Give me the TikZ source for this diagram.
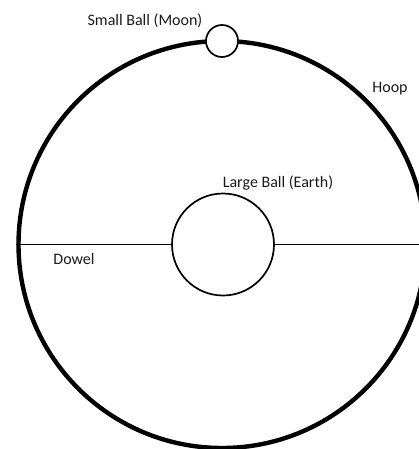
\documentclass[tikz,border=0pt]{standalone}
\usepackage{fontspec}
\setmainfont{Carlito}
\usetikzlibrary{positioning}
\definecolor{LabelGray}{HTML}{1A1A1A}
\tikzset{
  ball/.style={circle,draw=black,fill=white,inner sep=0pt},
  lbl/.style={font=\fontsize{16}{18}\selectfont,text=LabelGray}
}

\begin{document}
\begin{tikzpicture}[x=1pt,y=-1pt]
  \useasboundingbox (0,0) rectangle (419,449);
  \clip (0,0) rectangle (419,449);
  \node[circle,draw=black,line width=4.4pt,minimum size=407pt,inner sep=0pt] (hoop) at (222,244.5) {};
  \node[ball,line width=1.7pt,minimum size=102pt] (earth) at (223,244.5) {};
  \draw[line width=1.4pt] (hoop.west) -- (earth.west);
  \draw[line width=1.4pt] (earth.east) -- (hoop.east);
  \node[ball,line width=1.7pt,minimum size=32pt] (moon) at (222,41) {};
  \node[lbl] (moonlabel) at (145,21) {Small Ball (Moon)};
  \node[lbl] (hooplabel) at (390,89) {Hoop};
  \node[lbl] (earthlabel) at (278,183) {Large Ball (Earth)};
  \node[lbl] (dowellabel) at (74,259) {Dowel};
\end{tikzpicture}
\end{document}
